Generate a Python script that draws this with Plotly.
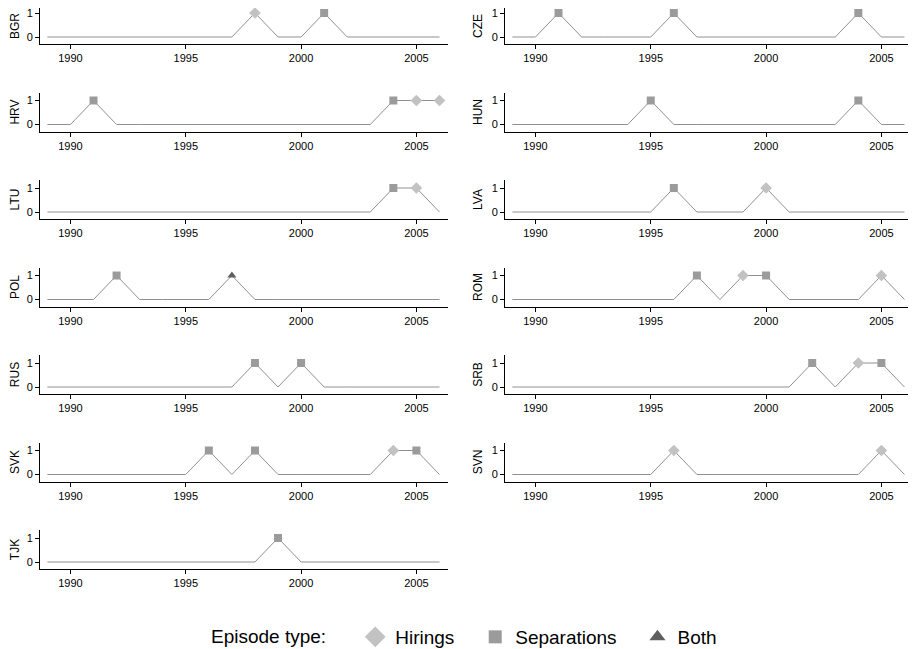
import plotly.graph_objects as go

years = list(range(1989, 2007))
countries = ["BGR", "CZE", "HRV", "HUN", "LTU", "LVA", "POL", "ROM",
             "RUS", "SRB", "SVK", "SVN", "TJK"]
# episodes: year -> type (H = hirings, S = separations, B = both)
episodes = {
    "BGR": {1998: "H", 2001: "S"},
    "CZE": {1991: "S", 1996: "S", 2004: "S"},
    "HRV": {1991: "S", 2004: "S", 2005: "H", 2006: "H"},
    "HUN": {1995: "S", 2004: "S"},
    "LTU": {2004: "S", 2005: "H"},
    "LVA": {1996: "S", 2000: "H"},
    "POL": {1992: "S", 1997: "B"},
    "ROM": {1997: "S", 1999: "H", 2000: "S", 2005: "H"},
    "RUS": {1998: "S", 2000: "S"},
    "SRB": {2002: "S", 2004: "H", 2005: "S"},
    "SVK": {1996: "S", 1998: "S", 2004: "H", 2005: "S"},
    "SVN": {1996: "H", 2005: "H"},
    "TJK": {1999: "S"},
}
x_ticks = [1990, 1995, 2000, 2005]
type_names = {"H": "Hirings", "S": "Separations", "B": "Both"}
type_symbols = {"H": "diamond", "S": "square", "B": "triangle-up"}
type_colors = {"H": "#c2c2c2", "S": "#9b9b9b", "B": "#5f5f5f"}

FONT = "Liberation Sans"
W, H = 916, 649
OX, OY = 8, 8  # page body margin offset


def px_x(v):
    return min(1.0, max(0.0, (v - OX) / W))


def px_y(v):
    return min(1.0, max(0.0, 1 - (v - OY) / H))


fig = go.Figure()
layout = {}
row_step = 87.5
unit = 24.0  # pixels per y unit
for i, c in enumerate(countries):
    row, col = divmod(i, 2)
    idx = i + 1
    xa = "x" if idx == 1 else f"x{idx}"
    ya = "y" if idx == 1 else f"y{idx}"
    left = 40 if col == 0 else 505
    right = left + 408
    zero = 37 + row_step * row
    top = max(5 + row_step * row, OY)
    bot = 44 + row_step * row
    vals = [1 if y in episodes[c] else 0 for y in years]
    fig.add_trace(go.Scatter(x=years, y=vals, mode="lines",
                             line=dict(color="#909090", width=1),
                             xaxis=xa, yaxis=ya, showlegend=False,
                             hoverinfo="skip"))
    for t in ["H", "S", "B"]:
        xs = [y for y, tt in episodes[c].items() if tt == t]
        if not xs:
            continue
        fig.add_trace(go.Scatter(
            x=xs, y=[1] * len(xs), mode="markers", cliponaxis=False,
            marker=dict(symbol=type_symbols[t], color=type_colors[t],
                        size=9 if t == "H" else 8, line=dict(width=0)),
            xaxis=xa, yaxis=ya, showlegend=False))
    layout["xaxis" if idx == 1 else f"xaxis{idx}"] = dict(
        domain=[px_x(left), px_x(right)], range=[1988.68, 2006.37],
        anchor=ya, tickvals=x_ticks, ticks="outside", ticklen=4,
        tickcolor="#000", showline=True, linecolor="#000", linewidth=1,
        showgrid=False, zeroline=False, automargin=False,
        ticklabeloverflow="allow",
        tickfont=dict(family=FONT, size=11, color="#000"))
    layout["yaxis" if idx == 1 else f"yaxis{idx}"] = dict(
        domain=[px_y(bot), px_y(top)],
        range=[-(bot - zero) / unit, (zero - top) / unit],
        anchor=xa, tickvals=[0, 1], ticks="outside", ticklen=4,
        tickcolor="#000", showline=True, linecolor="#000", linewidth=1,
        showgrid=False, zeroline=False, automargin=False,
        ticklabeloverflow="allow",
        title=dict(text=c, standoff=6,
                   font=dict(family=FONT, size=12, color="#000")),
        tickfont=dict(family=FONT, size=11, color="#000"))

pad = "\u00a0" * 3
leg_sizes = {"H": 16, "S": 13, "B": 14}
for t in ["H", "S", "B"]:
    fig.add_trace(go.Scatter(
        x=[None], y=[None], mode="markers",
        name=type_names[t] + (pad if t != "B" else ""),
        marker=dict(symbol=type_symbols[t], color=type_colors[t],
                    size=leg_sizes[t], line=dict(width=0)),
        showlegend=True))

fig.update_layout(
    width=W, height=H, margin=dict(l=0, r=0, t=0, b=0),
    plot_bgcolor="white", paper_bgcolor="white",
    legend=dict(orientation="h", x=px_x(209), xanchor="left",
                y=px_y(637), yanchor="middle",
                title=dict(text="Episode type:" + "\u00a0" * 4,
                           font=dict(family=FONT, size=19, color="#000")),
                font=dict(family=FONT, size=19, color="#000"),
                itemwidth=30, tracegroupgap=0),
    **layout)
fig.write_html("out.html")
